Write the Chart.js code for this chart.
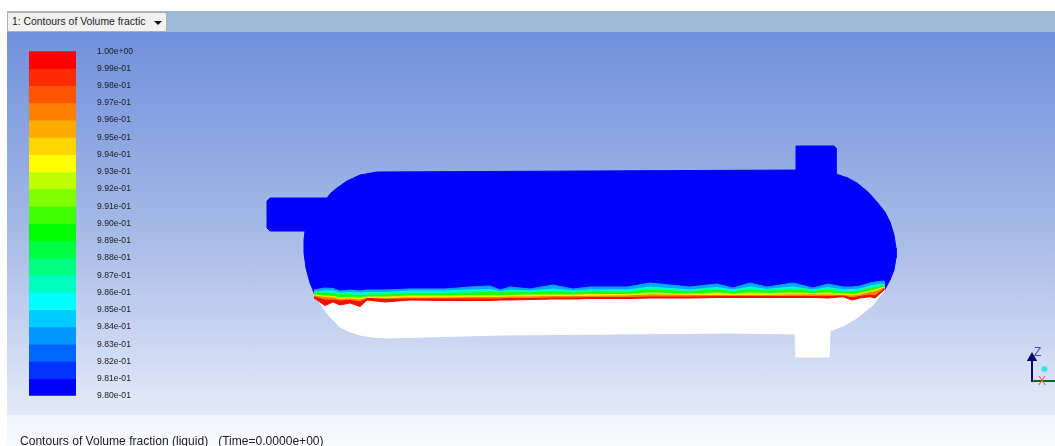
<!DOCTYPE html>
<html>
<head>
<meta charset="utf-8">
<title>Contours of Volume fraction</title>
<script src="https://cdn.jsdelivr.net/npm/chart.js@4"></script>
<style>
    html, body { margin: 0; padding: 0; background: #fff; overflow: hidden; }
    body { width: 1055px; height: 446px; position: relative; font-family: "Liberation Sans", Arial, sans-serif; }
    canvas { position: absolute; }
    #header { position: absolute; left: 7px; right: 0; top: 11px; height: 21px; background: #9fb8d6; }
    #viewport { position: absolute; left: 7px; right: 0; top: 32px; height: 383px;
        background: linear-gradient(#7090dc, #a3b8e6 50%, #e4eaf9); }
    #footer { position: absolute; left: 7px; right: 0; top: 415px; bottom: 0;
        background: linear-gradient(#eff3fc, #fafbfe); }
    #tab { position: absolute; left: 7px; top: 12px; width: 158px; height: 18px; background: #f1f1f1;
        border: 1px solid #b0b0b0; border-radius: 2px; font-size: 10.4px; line-height: 18px; color: #222; }
    #tab span { position: absolute; left: 4px; white-space: pre; }
    #tab i { position: absolute; left: 146px; top: 8px; border: 4px solid transparent; border-top: 4px solid #111; border-bottom: 0; }
    #caption { position: absolute; left: 20px; top: 435px; font-size: 12.05px; line-height: 13px; color: #222; white-space: pre; }
    .axis-label { position: absolute; font-size: 12px; line-height: 12px; }
</style>
</head>
<body>
<div id="header"></div>
<div id="viewport"></div>
<div id="footer"></div>
<div id="tab"><span>1: Contours of Volume fractic</span><i></i></div>
<canvas id="vessel" width="1055" height="446" style="left:0;top:0"></canvas>
<canvas id="scale" width="145" height="397" style="left:0;top:25px"></canvas>
<div class="axis-label" style="left:1034px;top:346px;color:#4a4ac8">Z</div>
<div class="axis-label" style="left:1038px;top:375px;color:#d86a5a">X</div>
<div id="caption">Contours of Volume fraction (liquid)   (Time=0.0000e+00)</div>

<script>
// colour scale, top band first
const levelColors = ["#ff0000", "#ff2b00", "#ff5500", "#ff8000", "#ffaa00", "#ffd500", "#ffff00", "#bfff00", "#80ff00", "#40ff00",
    "#00ff00", "#00ff40", "#00ff80", "#00ffbf", "#00ffff", "#00ccff", "#0099ff", "#0066ff", "#0033ff", "#0000ff"];
const levelValues = [1.000, 0.999, 0.998, 0.997, 0.996, 0.995, 0.994, 0.993, 0.992, 0.991, 0.990,
    0.989, 0.988, 0.987, 0.986, 0.985, 0.984, 0.983, 0.982, 0.981, 0.980];
const tickLabels = ["1.00e+00", "9.99e-01", "9.98e-01", "9.97e-01", "9.96e-01", "9.95e-01", "9.94e-01", "9.93e-01", "9.92e-01", "9.91e-01", "9.90e-01",
    "9.89e-01", "9.88e-01", "9.87e-01", "9.86e-01", "9.85e-01", "9.84e-01", "9.83e-01", "9.82e-01", "9.81e-01", "9.80e-01"];

// vessel outline: upper part from the left shell over the top to the right shell
const upperHullX = [315, 310, 306, 304, 304, 305, 270, 267, 267, 270, 327, 331, 337, 347, 360, 377, 796, 796, 800, 834, 836, 836, 848, 857, 868, 877, 885, 890, 894, 896, 896, 894, 890, 884];
const upperHullY = [295, 283, 268, 253, 240, 231, 231, 228, 201, 198, 198, 193, 188, 181, 175, 172, 170, 146, 146, 146, 148, 174, 178, 183, 192, 202, 212, 222, 235, 248, 258, 270, 280, 291];
const lowerHullX = [884, 873, 857, 845, 830, 829, 796, 795, 733, 500, 387, 372, 360, 348, 340, 331, 323, 315];
const lowerHullY = [291, 305, 318, 325, 331, 357, 357, 334, 333, 335, 338, 337, 335, 331, 327, 318, 308, 295];

// liquid surface: stations along the vessel, then one edge per colour band
const surfaceX = [314, 325, 333, 340, 350, 360, 367, 385, 410, 445, 470, 490, 500, 510, 530, 553, 573, 590, 627, 650, 690, 717, 733, 750, 767, 793, 813, 828, 843, 852, 860, 870, 875, 884];
const edgeBlue = [290, 288, 288.5, 291, 290, 291, 290, 290, 289, 289, 287, 286, 290, 287, 289, 285, 289, 287, 287, 283, 287, 284, 288, 283, 287, 283, 288, 284, 287, 287, 286, 283, 282, 281];
const edgeCyan = [292, 291, 291, 293, 292.5, 293, 292.5, 292.5, 291, 291, 290, 289.5, 291.5, 290, 291, 289, 291, 290, 290, 287, 290, 287.5, 290, 287, 289.5, 287, 290, 287.5, 290, 289.5, 289, 286, 285, 284];
const edgeGreen = [293, 293, 293.5, 295, 295, 295.5, 295, 295, 293.5, 293.5, 293, 292.5, 293, 292.5, 293, 292, 293, 292, 292, 290, 291.5, 290, 291.5, 290, 291, 290, 291.5, 290, 292, 292, 291.5, 288.5, 287.5, 286];
const edgeYellow = [295, 296, 296.5, 298, 297.5, 298, 297, 297, 296, 296, 295.5, 295.5, 295.5, 295.5, 295, 295, 295, 294.5, 294.5, 293, 294, 293, 294, 293, 293.5, 293, 293.5, 293, 294, 294.5, 293.5, 291, 290, 287];
const edgeOrange = [296, 297.5, 298, 299.5, 299, 300, 298.5, 298.5, 298, 298, 297.5, 297.5, 297.5, 297, 297, 296.5, 296.5, 296.5, 296, 295, 295.5, 295.5, 295.5, 295.5, 295.5, 295, 295, 295, 295.5, 296, 295, 292.5, 292, 288];
const edgeRed = [297, 300, 300, 301, 300.5, 302, 298.5, 299.5, 299, 299, 299, 299, 299, 298.5, 298.5, 298, 298, 297.5, 297.5, 297, 297, 296.5, 296.5, 296.5, 296.5, 296.5, 296.5, 296.5, 296, 298, 296.5, 295, 296, 289];
const edgeWhite = [298, 305.5, 302, 305, 303, 306.5, 300, 302, 300, 300.5, 300.5, 300.5, 300, 300, 299.5, 299, 299, 298.5, 298.5, 298, 298, 297.5, 297.5, 297.5, 297.5, 297.5, 297.5, 298, 296.7, 300, 298, 296.7, 298, 290];

// triad at lower right
const triadZX = [1032, 1032];
const triadZY = [382, 358];
const triadYX = [1032, 1055];
const triadYY = [381, 381];
const triadDotX = [1044.5];
const triadDotY = [369];

function toPoints(xs, ys) {
    return xs.map((x, i) => ({ x: x, y: ys[i] }));
}

// closed shape between two band edges
function bandPoints(upper, lower) {
    return toPoints(surfaceX, upper).concat(toPoints(surfaceX, lower).reverse());
}

function shape(points, color) {
    return { data: points, fill: "shape", backgroundColor: color, borderColor: color, borderWidth: 1, pointRadius: 0, tension: 0 };
}

function trace(points, color, width, radius, style) {
    return { data: points, fill: false, borderColor: color, backgroundColor: color, borderWidth: width,
        pointRadius: radius, pointStyle: style, tension: 0 };
}

// listed bottom layer first, reversed below because Chart.js paints the last dataset first
const layers = [
    shape(toPoints(upperHullX, upperHullY).concat(toPoints(surfaceX, edgeYellow).reverse()), "#0000ff"),
    shape(toPoints(surfaceX, edgeYellow).concat(toPoints(lowerHullX, lowerHullY)), "#ffffff"),
    shape(bandPoints(edgeBlue, edgeCyan), "#00a8ff"),
    shape(bandPoints(edgeCyan, edgeGreen), "#00ffc8"),
    shape(bandPoints(edgeGreen, edgeYellow), "#20ff00"),
    shape(bandPoints(edgeYellow, edgeOrange), "#ffe000"),
    shape(bandPoints(edgeOrange, edgeRed), "#ff8000"),
    shape(bandPoints(edgeRed, edgeWhite), "#f01000"),
    trace(toPoints(triadYX, triadYY), "#0c6a1c", 2, 0, "circle"),
    trace(toPoints(triadZX, triadZY), "#0a0a70", 2, [0, 4], "triangle"),
    trace(toPoints(triadDotX, triadDotY), "#30e8e8", 0, 3, "circle")
];

new Chart(document.getElementById("vessel"), {
    type: "line",
    data: { datasets: layers.reverse() },
    options: {
        responsive: false,
        animation: false,
        events: [],
        layout: { padding: 0, autoPadding: false },
        plugins: { legend: { display: false }, title: { display: false }, tooltip: { enabled: false } },
        scales: {
            x: { type: "linear", min: 0, max: 1055, display: false },
            y: { type: "linear", min: 0, max: 446, reverse: true, display: false }
        }
    }
});

new Chart(document.getElementById("scale"), {
    type: "bar",
    data: {
        labels: ["Volume fraction"],
        datasets: levelColors.map((color, i) => ({
            data: [[levelValues[i + 1], levelValues[i]]],
            backgroundColor: color,
            grouped: false,
            barPercentage: 1,
            categoryPercentage: 1
        }))
    },
    options: {
        responsive: false,
        animation: false,
        events: [],
        // the tick padding below also reserves 26px above and below the bars
        layout: { padding: { left: 29, top: 0, bottom: 0, right: 0 }, autoPadding: false },
        plugins: { legend: { display: false }, title: { display: false }, tooltip: { enabled: false } },
        scales: {
            x: { display: false },
            y: {
                position: "right",
                min: 0.98,
                max: 1,
                grid: { display: false, drawTicks: false },
                border: { display: false },
                afterFit: function (axis) { axis.width = 69; },
                afterBuildTicks: function (axis) {
                    axis.ticks = levelValues.map((v) => ({ value: v }));
                },
                ticks: {
                    autoSkip: false,
                    minRotation: 0,
                    maxRotation: 0,
                    padding: 21,
                    color: "#1c1c1c",
                    font: { family: "'Liberation Sans', Arial, sans-serif", size: 8.6 },
                    callback: function (value, index) { return tickLabels[index]; }
                }
            }
        }
    }
});
</script>
</body>
</html>
